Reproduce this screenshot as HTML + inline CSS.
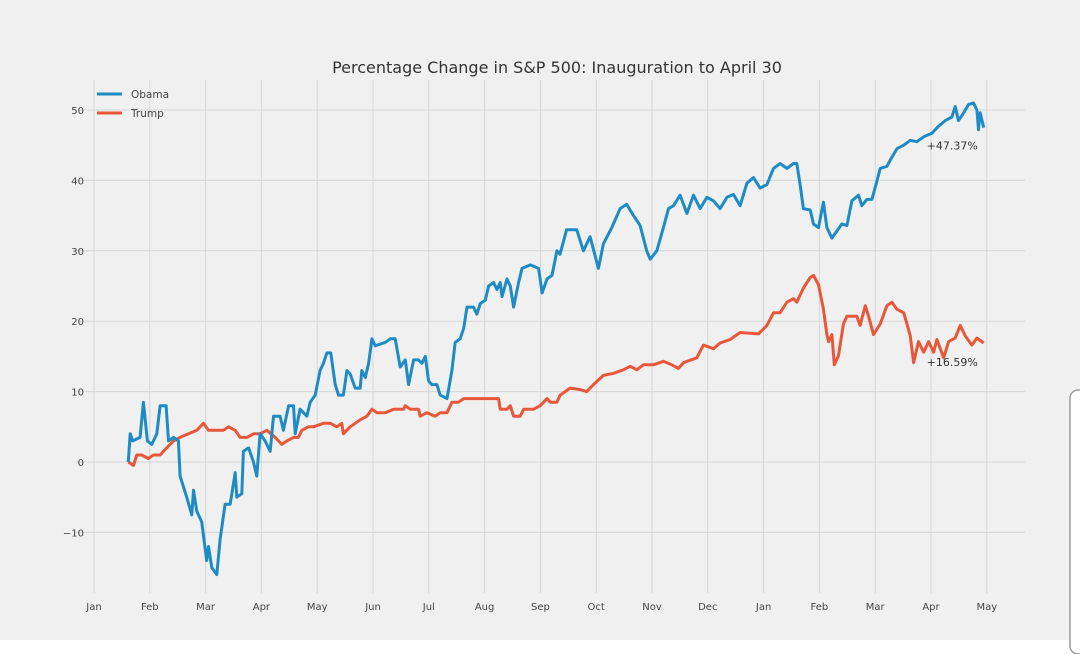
<!DOCTYPE html>
<html><head><meta charset="utf-8"><style>
html,body{margin:0;padding:0;background:#fff;}
svg{display:block;font-family:"DejaVu Sans","Liberation Sans",sans-serif;}
</style></head><body>
<svg id="chart" width="1080" height="654" viewBox="0 0 1080 654">
<rect x="0" y="0" width="1080" height="640" fill="#f0f0f0"/>
<rect x="1070" y="390" width="20" height="264" rx="8" fill="#fff" stroke="#9a9a9a" stroke-width="1.5"/>
<g id="grid"></g>
<g id="ticks"></g>
<g id="series"></g>
<text x="557" y="73" text-anchor="middle" font-size="16" fill="#333">Percentage Change in S&amp;P 500: Inauguration to April 30</text>
<g>
<line x1="97" y1="94" x2="122" y2="94" stroke="#1f8bc4" stroke-width="3"/>
<text x="131" y="98" font-size="10.5" fill="#444">Obama</text>
<line x1="97" y1="113" x2="122" y2="113" stroke="#e8573a" stroke-width="3"/>
<text x="131" y="117" font-size="10.5" fill="#444">Trump</text>
</g>
</svg>
<script>
const monthLabels=["Jan","Feb","Mar","Apr","May","Jun","Jul","Aug","Sep","Oct","Nov","Dec","Jan","Feb","Mar","Apr","May"];
const yTicks=[-10,0,10,20,30,40,50];
const obamaDays=[18.7,19.7,21.1,25.1,26.9,29.1,31.5,34.2,36,39.3,40.6,43.3,46,46.9,50.5,53.3,54.2,56,58.7,61.4,62.4,64.2,66.9,68.7,71.4,74.2,76.9,77.8,80.5,81.4,84.2,86.9,88.7,90.5,93.2,96,97.8,101.4,103.2,106,108.7,109.6,112.3,116,117.8,120.5,123.2,125,126.9,129,131.4,133.2,135.9,137.8,139.6,142.3,145,145.9,147.8,149.6,151.4,153.2,158.7,161.4,164.1,166.8,169.6,171.4,174.1,176.8,178.6,180.5,182.3,184.1,186.8,188.6,192.3,195,196.8,199.5,201.4,203.2,206.8,208.6,210.4,213.2,215,217.7,219.5,221.3,222.3,225,226.8,228.6,231.3,233.2,237.7,242.2,244.1,246.8,249.5,252.2,253.9,257.5,263,266.6,270.3,274.8,277.5,282.1,286.6,290.2,293.9,297.5,301.1,303,306.6,310.2,313,315.7,319.3,323,326.6,330.2,333.9,337.5,341.1,344.8,348.4,352,355.7,359.3,362.9,366.6,370.2,373.8,377.5,381.1,382.9,384.7,386.5,390.2,392,394.7,397.4,399.3,402,404.7,407.4,410.2,412.9,416.5,418.3,421.1,423.8,426.5,428.3,432,433.8,437.4,441.1,444.7,448.3,452,456.5,460.1,463.8,467.4,469.2,471,473.8,476.5,479.2,481,481.9,482.8,484.7];
const obamaValues=[0,4,3,3.5,8.5,3,2.5,4,8,8,3,3.5,3,-2,-5,-7.5,-4,-7,-8.5,-14,-12,-15,-16,-11,-6,-6,-1.5,-5,-4.5,1.5,2,0,-2,4,3,1.5,6.5,6.5,4.5,8,8,4,7.5,6.5,8.5,9.5,13,14,15.5,15.5,11,9.5,9.5,13,12.5,10.5,10.5,13,12,14,17.5,16.5,17,17.5,17.5,13.5,14.5,11,14.5,14.5,14,15,11.5,11,11,9.5,9,13,17,17.5,19,22,22,21,22.5,23,25,25.5,24.5,25.5,23.5,26,25,22,25.5,27.5,28,27.5,24,26,26.5,30,29.5,33,33,30,32,27.5,31,33.3,36,36.6,35,33.6,30,28.8,30,33.3,36,36.4,37.9,35.3,37.9,36,37.6,37.1,36,37.6,38,36.4,39.6,40.4,38.9,39.4,41.7,42.4,41.7,42.4,42.4,39.4,36,35.8,33.8,33.3,36.9,33.3,31.8,32.8,33.8,33.6,37.1,37.9,36.4,37.3,37.3,39.9,41.7,42,42.9,44.5,45,45.7,45.5,46.2,46.7,47.7,48.5,49,50.5,48.5,49.6,50.8,51,50,47.2,49.6,47.5];
const trumpDays=[18.7,21.5,23.3,26,29.6,32.4,36,39.6,43.3,46.9,51.5,56,59.6,62.4,66,70.5,73.3,76.9,79.6,83.3,86.9,90.5,94.2,98.7,102.3,105.1,108.7,111.4,113.2,116.9,119.6,125,128.7,132.3,135,135.9,139.6,142.3,145,148.7,151.4,154.1,158.7,163.2,168.6,169.6,172.3,176.8,177.7,181.4,185.9,188.6,192.3,195,198.6,201.4,206.8,211.4,217.7,220.4,221.3,225,226.8,228.6,232.2,234.1,239.5,243.1,246.8,248.6,252.2,254,259.4,264.8,268.4,272.1,277.5,283,288.4,292.1,295.7,299.3,304.8,310.2,314.8,318.4,321.1,328.4,332,337.5,341.1,346.6,352,362,366.6,370.2,373.8,377.5,381.1,382.9,386.5,390.2,392,394.7,397.4,399.3,400.2,402,403.3,405.6,408.3,410.2,415.6,417.4,420.2,422,424.7,428.3,432,434.7,437.4,441.1,442.9,444.7,446.5,449.2,452,454.7,457.4,459.2,462.9,465.6,469.2,471.9,474.7,478.3,481,484.7];
const trumpValues=[0,-0.5,1,1,0.5,1,1,2,3,3.5,4,4.5,5.5,4.5,4.5,4.5,5,4.5,3.5,3.5,4,4,4.5,3.5,2.5,3,3.5,3.5,4.5,5,5,5.5,5.5,5,5.5,4,5,5.5,6,6.5,7.5,7,7,7.5,7.5,8,7.5,7.5,6.5,7,6.5,7,7,8.5,8.5,9,9,9,9,9,7.5,7.5,8,6.5,6.5,7.5,7.5,8,9,8.5,8.5,9.5,10.5,10.3,10,11,12.3,12.6,13.1,13.6,13.1,13.8,13.8,14.3,13.8,13.3,14.1,14.8,16.6,16.1,16.9,17.4,18.4,18.2,19.4,21.2,21.2,22.7,23.2,22.7,24.7,26.2,26.5,25.2,21.7,18.1,17.1,18.1,13.8,15.1,19.6,20.7,20.7,19.4,22.2,20.7,18.1,19.6,22.2,22.7,21.7,21.2,19.6,17.9,14.1,17.1,15.6,17.1,15.6,17.4,14.8,17.1,17.6,19.4,17.9,16.6,17.6,16.9];
const annotations=["+47.37%","+16.59%"];
const annotationValues=[47.37,16.59];

const NS="http://www.w3.org/2000/svg";
const X0=94, PX_PER_DAY=55.8/30.4, Y0=462, PX_PER_UNIT=7.04;
function xScale(d){return X0+d*PX_PER_DAY;}
function yScale(v){return Y0-v*PX_PER_UNIT;}
function mk(tag,attrs,parent){const e=document.createElementNS(NS,tag);for(const k in attrs)e.setAttribute(k,attrs[k]);parent.appendChild(e);return e;}
const grid=document.getElementById('grid'), ticks=document.getElementById('ticks'), series=document.getElementById('series');
const PL=75, PR=1025, PT=80, PB=593;
monthLabels.forEach((m,i)=>{
  const x=xScale(i*30.4);
  const l=mk('line',{x1:x,y1:PT,x2:x,y2:PB,stroke:'#d6d6d6','stroke-width':1},grid);
  
  
  const t=mk('text',{x:x,y:610,'text-anchor':'middle','font-size':10,fill:'#444'},ticks);
  t.textContent=m;
  
  
});
yTicks.forEach(v=>{
  const y=yScale(v);
  const l=mk('line',{x1:PL,y1:y,x2:PR,y2:y,stroke:'#d6d6d6','stroke-width':1},grid);
  
  
  const t=mk('text',{x:84,y:y+4,'text-anchor':'end','font-size':10,fill:'#444'},ticks);
  t.textContent=v<0?'\u2212'+Math.abs(v):String(v);
  
  
});
function drawLine(days,vals,color,name){
  const d=days.map((dd,i)=>(i?'L':'M')+xScale(dd).toFixed(1)+','+yScale(vals[i]).toFixed(1)).join(' ');
  const p=mk('path',{d:d,fill:'none',stroke:color,'stroke-width':3,'stroke-linejoin':'round'},series);
  
  
}
drawLine(trumpDays,trumpValues,'#e8573a','trump-line');
drawLine(obamaDays,obamaValues,'#1f8bc4','obama-line');
const lastDay=obamaDays[obamaDays.length-1];
annotations.forEach((a,i)=>{
  const t=mk('text',{x:xScale(lastDay)-57,y:yScale(annotationValues[i])+21,'font-size':11,fill:'#333'},series);
  t.textContent=a;
  
  
});
</script>
</body></html>
